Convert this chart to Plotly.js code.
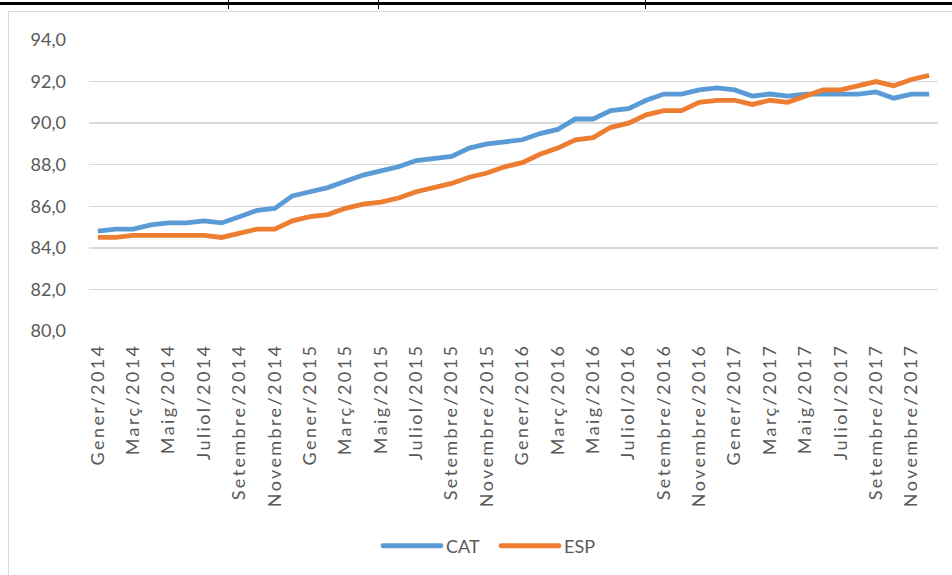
<!DOCTYPE html>
<html>
<head>
<meta charset="utf-8">
<script src="https://cdn.plot.ly/plotly-3.0.1.min.js"></script>
<style>
  html, body { margin: 0; padding: 0; background: #ffffff; overflow: hidden; }
  #wrap { position: relative; width: 952px; height: 575px; overflow: hidden; }
  #chart { position: absolute; left: 0; top: 0; width: 952px; height: 575px; }
  .topbar { position: absolute; left: 0; top: 2px; width: 952px; height: 3px; background: #000; }
  .mark { position: absolute; top: 0; width: 1px; height: 9px; background: #000; }
  .frame { position: absolute; left: 8px; top: 11px; width: 950px; height: 570px;
           border-top: 1.5px solid #d9d9d9; border-left: 1.5px solid #d9d9d9; pointer-events: none; }
  .xtick text { letter-spacing: 2.4px; }
  .legendlines path { stroke-linecap: round; }
</style>
</head>
<body>
<div id="wrap">
  <div class="frame"></div>
  <div id="chart"></div>
  <div class="topbar"></div>
  <div class="mark" style="left:228px"></div>
  <div class="mark" style="left:378px"></div>
  <div class="mark" style="left:645px"></div>
</div>
<script>
const months = ["Gener","Febrer","Març","Abril","Maig","Juny","Juliol","Agost","Setembre","Octubre","Novembre","Desembre"];
const years = [2014, 2015, 2016, 2017];

const CAT = [84.8,84.9,84.9,85.1,85.2,85.2,85.3,85.2,85.5,85.8,85.9,86.5,
             86.7,86.9,87.2,87.5,87.7,87.9,88.2,88.3,88.4,88.8,89.0,89.1,
             89.2,89.5,89.7,90.2,90.2,90.6,90.7,91.1,91.4,91.4,91.6,91.7,
             91.6,91.3,91.4,91.3,91.4,91.4,91.4,91.4,91.5,91.2,91.4,91.4];

const ESP = [84.5,84.5,84.6,84.6,84.6,84.6,84.6,84.5,84.7,84.9,84.9,85.3,
             85.5,85.6,85.9,86.1,86.2,86.4,86.7,86.9,87.1,87.4,87.6,87.9,
             88.1,88.5,88.8,89.2,89.3,89.8,90.0,90.4,90.6,90.6,91.0,91.1,
             91.1,90.9,91.1,91.0,91.3,91.6,91.6,91.8,92.0,91.8,92.1,92.3];

const categories = [];
years.forEach(y => months.forEach(m => categories.push(m + "/" + y)));
const tickLabels = categories.filter((c, i) => i % 2 === 0);

const textColor = "#595959";
const gridColor = "#d9d9d9";

const traces = [
  { x: categories, y: CAT, name: "CAT", type: "scatter", mode: "lines",
    line: { color: "#5b9bd5", width: 4.8 } },
  { x: categories, y: ESP, name: "ESP", type: "scatter", mode: "lines",
    line: { color: "#ed7d31", width: 4.8 } }
];

const layout = {
  width: 952, height: 575,
  margin: { l: 89, r: 14, t: 40, b: 243 },
  paper_bgcolor: "rgba(0,0,0,0)",
  plot_bgcolor: "#ffffff",
  separators: ",.",
  font: { family: "Lato, 'Open Sans', sans-serif", size: 18, color: textColor },
  showlegend: true,
  legend: {
    orientation: "h", x: (378 - 89) / 849, xanchor: "left", y: -0.733, yanchor: "middle",
    font: { family: "Lato, sans-serif", size: 18, color: textColor },
    itemwidth: 58, entrywidth: 45, entrywidthmode: "pixels", tracegroupgap: 0
  },
  xaxis: {
    type: "category",
    range: [-0.5, categories.length - 0.5],
    tickmode: "array", tickvals: tickLabels, ticktext: tickLabels,
    tickangle: -90,
    showgrid: false, showline: false, zeroline: false, ticks: "",
    ticklabelstandoff: 8,
    tickfont: { family: "Lato, sans-serif", size: 18, color: textColor },
    fixedrange: true
  },
  yaxis: {
    range: [80, 94], tick0: 80, dtick: 2, tickformat: ".1f",
    showgrid: true, gridcolor: gridColor, gridwidth: 1.5,
    showline: false, zeroline: false, ticks: "",
    ticklabelstandoff: 22,
    tickfont: { family: "Lato, sans-serif", size: 18, color: textColor },
    fixedrange: true
  }
};

Plotly.newPlot("chart", traces, layout, { displayModeBar: false, staticPlot: true });
</script>
</body>
</html>
